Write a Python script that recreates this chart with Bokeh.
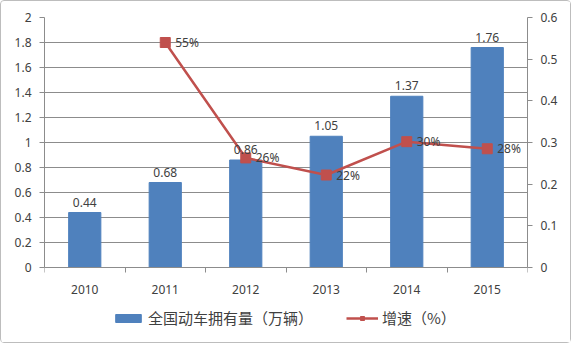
from bokeh.plotting import figure
from bokeh.models import (ColumnDataSource, Range1d, LinearAxis, FixedTicker, Legend, LegendItem, LabelSet)
from bokeh.core.properties import value
from bokeh.embed import file_html
from bokeh.resources import INLINE

years = ["2010", "2011", "2012", "2013", "2014", "2015"]
fleet = [0.44, 0.68, 0.86, 1.05, 1.37, 1.76]
fleet_labels = ["0.44", "0.68", "0.86", "1.05", "1.37", "1.76"]
rate_years = ["2011", "2012", "2013", "2014", "2015"]
rate = [0.54, 0.263, 0.222, 0.302, 0.285]
rate_labels = ["55%", "26%", "22%", "30%", "28%"]
left_ticks = [0, 0.2, 0.4, 0.6, 0.8, 1.0, 1.2, 1.4, 1.6, 1.8, 2.0]
right_ticks = [0, 0.1, 0.2, 0.3, 0.4, 0.5, 0.6]

BLUE = "#4F81BD"
RED = "#C0504D"
TXT = "#404040"
GRID = "#8c8c8c"
FONT = "Noto Sans"
CJK = "Noto Sans CJK SC"

xpos = [years.index(y) + 0.5 for y in years]
rxpos = [years.index(y) + 0.5 for y in rate_years]

bar_src = ColumnDataSource(dict(x=xpos, top=fleet, lab=fleet_labels))
rate_src = ColumnDataSource(dict(x=rxpos, y=rate, lab=rate_labels))

# frame extends below zero to leave room for x labels and legend inside it
p = figure(width=571, height=343, output_backend="svg", toolbar_location=None,
           x_range=Range1d(0, 6), y_range=Range1d(-0.584, 2),
           min_border_left=43, min_border_right=45, min_border_top=16, min_border_bottom=4)
p.styles = {"border": "1px solid #bdbdbd", "border-radius": "4px"}
p.outline_line_color = None
p.background_fill_color = "white"
p.border_fill_color = "white"
p.extra_y_ranges = {"rate": Range1d(-0.584 * 0.3, 0.6)}

# grid
p.xgrid.grid_line_color = None
p.ygrid.grid_line_color = GRID
p.ygrid.grid_line_width = 1
p.ygrid.ticker = FixedTicker(ticks=left_ticks)

# x axis
xa = p.xaxis[0]
xa.fixed_location = 0
xa.ticker = FixedTicker(ticks=xpos, minor_ticks=[0, 1, 2, 3, 4, 5, 6])
xa.major_label_overrides = {x: y for x, y in zip(xpos, years)}
xa.major_tick_out = 0
xa.major_tick_in = 0
xa.minor_tick_out = 5
xa.minor_tick_in = 0
xa.minor_tick_line_color = GRID
xa.axis_line_color = GRID
xa.major_label_text_font = FONT
xa.major_label_text_font_size = "12px"
xa.major_label_text_color = TXT
xa.major_label_standoff = 12

# left y axis
ya = p.yaxis[0]
ya.bounds = (0, 2)
ya.ticker = FixedTicker(ticks=left_ticks)
ya.major_label_overrides = {0: "0", 1.0: "1", 2.0: "2"}
ya.axis_line_color = GRID
ya.major_tick_line_color = GRID
ya.major_tick_out = 5
ya.major_tick_in = 0
ya.minor_tick_line_color = None
ya.major_label_text_font = FONT
ya.major_label_text_font_size = "12px"
ya.major_label_text_color = TXT
ya.major_label_standoff = 8

# right y axis
ra = LinearAxis(y_range_name="rate", ticker=FixedTicker(ticks=right_ticks), bounds=(0, 0.6))
ra.major_label_overrides = {0: "0"}
ra.axis_line_color = GRID
ra.major_tick_line_color = GRID
ra.major_tick_out = 5
ra.major_tick_in = 0
ra.minor_tick_line_color = None
ra.major_label_text_font = FONT
ra.major_label_text_font_size = "12px"
ra.major_label_text_color = TXT
ra.major_label_standoff = 8
p.add_layout(ra, "right")

bars = p.vbar(x="x", top="top", width=0.4, bottom=0, source=bar_src,
              fill_color=BLUE, line_color=BLUE)
line = p.line(x="x", y="y", source=rate_src, y_range_name="rate",
              line_color=RED, line_width=2.5)
marks = p.scatter(x="x", y="y", source=rate_src, y_range_name="rate", marker="square",
                  size=10, fill_color=RED, line_color=RED)

p.add_layout(LabelSet(x="x", y="top", text="lab", source=bar_src, text_align="center",
                      text_baseline="bottom", y_offset=6, text_font=value(FONT),
                      text_font_size="12px", text_color=TXT))
p.add_layout(LabelSet(x="x", y="y", text="lab", source=rate_src, y_range_name="rate",
                      text_align="left", text_baseline="middle", x_offset=10,
                      text_font=value(FONT), text_font_size="12px", text_color=TXT))

legend = Legend(items=[LegendItem(label="全国动车拥有量（万辆）", renderers=[bars]),
                       LegendItem(label="增速（%）", renderers=[line, marks])],
                orientation="horizontal", location=(68, 12),
                label_text_font=CJK, label_text_font_size="15px", label_text_color=TXT,
                label_standoff=4,
                glyph_width=32, glyph_height=10, spacing=33, padding=4, margin=0,
                border_line_color=None, background_fill_alpha=0)
p.add_layout(legend, "center")

open("out.html", "w").write(file_html(p, INLINE))
